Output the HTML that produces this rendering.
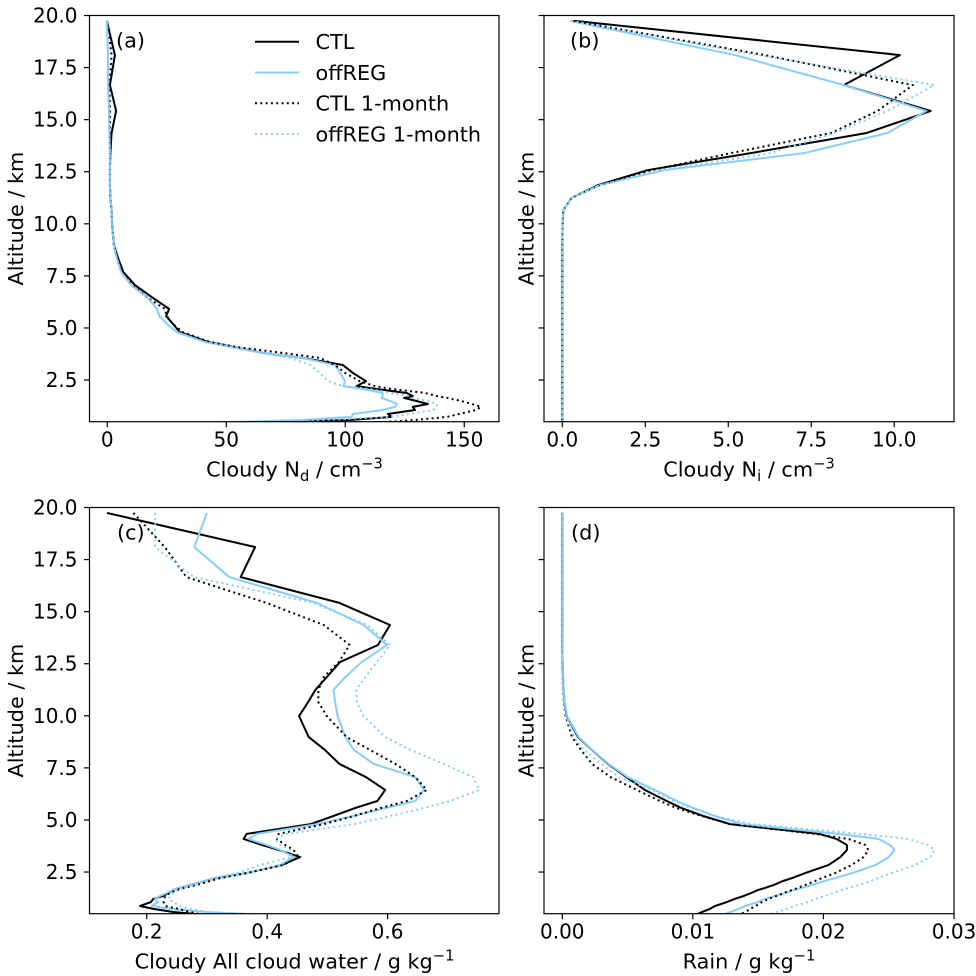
<!DOCTYPE html>
<html lang="en">
<head>
<meta charset="utf-8">
<title>Cloud profiles</title>
<style>
html,body{margin:0;padding:0;background:#fff;}
svg{display:block;}
text{font-family:"DejaVu Sans","Liberation Sans",sans-serif;font-size:20.8px;fill:#000;}
text.tick{font-size:20px;}
</style>
</head>
<body>
<svg id="fig" xmlns="http://www.w3.org/2000/svg" width="976" height="976" viewBox="0 0 976 976"></svg>
<script>
// Altitude of each model level, km
const altitude=[19.74,18.10,16.66,15.42,14.36,13.40,12.58,11.86,11.24,10.66,9.99,8.98,8.36,7.69,7.06,6.44,5.91,5.57,5.19,4.80,4.33,4.09,3.80,3.56,3.22,2.84,2.45,2.21,2.07,1.88,1.73,1.64,1.50,1.35,1.21,1.06,0.87,0.73,0.58,0.44];

// Panel (a) Nd, cm-3
const aCTL=[-0.2,3.2,1.1,3.7,1.8,1.3,1.1,1.1,1.3,1.8,2.0,2.8,4.5,6.7,11.6,19.2,26.0,24.7,27.6,30.5,42.3,52.8,65.4,82.2,99,103.2,108.7,104.8,113.2,125.8,128.4,124.7,129.7,134.7,128.4,129.3,117.9,119.5,101.9,55.8];
const aREG=[-0.2,0.3,0.3,0.7,0.9,1.1,1.1,1.1,1.3,1.8,2.0,2.7,4.0,5.8,10,17.1,20.8,21.9,25.2,29.2,41,52,65,82,95.7,97.8,99.9,99.2,107.5,115.7,115.7,115.3,118.8,121.7,120.9,115.7,103.2,102.7,82,39];
const aCTL1=[0,1.8,0.9,1.1,1.1,1.1,1.1,1.1,1.3,1.8,2,2.7,4.2,6.2,10.8,17.1,24.2,25,27.6,31.8,43,54,73.8,89.4,95.7,99.9,106,112.4,119.6,133.5,138.5,142.7,148.6,153.3,157,154.9,147.8,142.7,129.3,110];
const aREG1=[0,0.3,0.4,0.7,0.9,1.1,1.1,1.1,1.3,1.8,2,2.7,4.0,5.8,10,17.1,21,22,25.2,29.2,41,52,65,76.8,85.2,89.4,92.7,99,110.4,118.8,127.2,128.4,134.3,138.5,138.5,136.9,127.2,118.8,90.6,72.5];

// Panel (b) Ni, cm-3
const bCTL=[0.38,10.17,8.48,11.1,9.17,5.7,2.58,1.08,0.28,0.03,0.01,0,0,0,0,0,0,0,0,0,0,0,0,0,0,0,0,0,0,0,0,0,0,0,0,0,0,0,0,0];
const bREG=[0.23,5.2,8.48,10.97,9.8,7.3,3.1,1.13,0.28,0.03,0.01,0,0,0,0,0,0,0,0,0,0,0,0,0,0,0,0,0,0,0,0,0,0,0,0,0,0,0,0,0];
const bCTL1=[0.33,6.1,10.56,9.5,8.1,5.1,2.7,1.13,0.28,0.03,0.01,0,0,0,0,0,0,0,0,0,0,0,0,0,0,0,0,0,0,0,0,0,0,0,0,0,0,0,0,0];
const bREG1=[0.28,5.9,11.2,9.8,8.2,6.3,3.0,1.13,0.28,0.03,0.01,0,0,0,0,0,0,0,0,0,0,0,0,0,0,0,0,0,0,0,0,0,0,0,0,0,0,0,0,0];

// Panel (c) all cloud water, g/kg
const cCTL=[.134,.38,.356,.52,.604,.584,.521,.499,.48,.468,.453,.469,.496,.52,.564,.596,.583,.546,.51,.472,.366,.361,.391,.419,.455,.424,.366,.316,.297,.272,.253,.244,.236,.227,.211,.207,.189,.211,.244,.30];
const cREG=[.3,.279,.337,.483,.56,.599,.557,.53,.51,.513,.517,.53,.544,.577,.646,.66,.646,.596,.544,.483,.383,.369,.399,.422,.444,.422,.366,.319,.297,.272,.253,.244,.234,.222,.214,.219,.208,.239,.3,.40];
const cCTL1=[.178,.23,.266,.399,.494,.537,.519,.494,.485,.485,.499,.532,.571,.613,.646,.665,.632,.588,.544,.494,.419,.416,.43,.444,.452,.427,.366,.322,.305,.283,.261,.25,.239,.231,.229,.228,.231,.253,.272,.294];
const cREG1=[.214,.214,.278,.477,.566,.604,.582,.563,.548,.549,.56,.596,.638,.693,.742,.752,.704,.66,.604,.544,.433,.413,.422,.438,.441,.388,.35,.311,.294,.278,.261,.253,.244,.239,.236,.244,.255,.272,.3,.327];

// Panel (d) rain, in 10^-3 g/kg
const dCTL=[0,0,0,0,0,0,.02,.06,.1,.18,.34,1.2,2.28,3.5,4.9,6.33,8,9.14,10.8,12.85,19.7,21,21.8,21.8,21.3,20.4,18.6,17.6,16.9,16.2,15.5,15,14.5,13.9,13.2,12.6,11.7,11.3,10.7,10.2];
const dREG=[0,0,0,0,0,.01,.03,.07,.11,.2,.37,1.25,2.3,3.55,5,7.1,8.76,10.04,11.7,13.74,21.15,24.2,25.1,25.44,25,24,22.2,20.9,20.1,19.1,18.3,17.8,17.1,16.3,15.5,15,14,13.5,12.85,12.3];
const dCTL1=[0,0,0,0,0,0,0,.02,.05,.1,.25,.75,1.43,2.28,3.7,5.7,7.48,8.76,10.68,12.85,19.36,21.9,23.2,23.45,23.07,22.17,20.9,19.87,19.36,18.6,18,17.6,17,16.4,15.8,15.3,14.8,14.4,14,13.5];
const dREG1=[0,0,0,0,0,0,0,.02,.06,.12,.3,.9,1.66,3,4.3,6.85,8.5,9.9,11.7,14.5,22.94,26.5,28,28.5,28.2,27,25.2,24.2,23.6,22.7,21.9,21.4,20.8,20.1,19.4,18.85,17.8,17.2,16.4,15.7];

// Axis ticks
const altitudeTicks=[2.5,5,7.5,10,12.5,15,17.5,20];
const altitudeTickLabels=['2.5','5.0','7.5','10.0','12.5','15.0','17.5','20.0'];
const xTicksA=[0,50,100,150];
const xTickLabelsA=['0','50','100','150'];
const xTicksB=[0,2.5,5,7.5,10];
const xTickLabelsB=['0.0','2.5','5.0','7.5','10.0'];
const xTicksC=[0.2,0.4,0.6];
const xTickLabelsC=['0.2','0.4','0.6'];
const xTicksD=[0,10,20,30];
const xTickLabelsD=['0.00','0.01','0.02','0.03'];

// Legend and series names
const seriesNames=['CTL','offREG','CTL 1-month','offREG 1-month'];

const svg=document.getElementById('fig');
const NS='http://www.w3.org/2000/svg';
const BLUE='#87cefa';
const styles=[
  {stroke:'#000',dash:null},
  {stroke:BLUE,dash:null},
  {stroke:'#000',dash:'2 3.3'},
  {stroke:BLUE,dash:'2 3.3'}
];

function make(tag,attrs,parent){
  const el=document.createElementNS(NS,tag);
  for(const k in attrs){el.setAttribute(k,attrs[k]);}
  (parent||svg).appendChild(el);
  return el;
}

function drawPanel(p){
  const g=make('g',{});
  
  
  const xScale=v=>p.left+(v-p.xLim[0])/(p.xLim[1]-p.xLim[0])*(p.right-p.left);
  const yScale=h=>p.top+(20-h)/(20-0.5)*(p.bottom-p.top);

  const clipId='clip-'+p.id;
  const defs=make('defs',{},g);
  const cp=make('clipPath',{id:clipId},defs);
  make('rect',{x:p.left,y:p.top,width:p.right-p.left,height:p.bottom-p.top},cp);

  const seriesGroup=make('g',{'clip-path':'url(#'+clipId+')'},g);
  p.series.forEach((vals,i)=>{
    const pts=vals.map((v,k)=>xScale(v).toFixed(2)+','+yScale(altitude[k]).toFixed(2)).join(' ');
    const line=make('polyline',{points:pts,fill:'none',stroke:styles[i].stroke,'stroke-width':2,'stroke-linejoin':'round'},seriesGroup);
    if(styles[i].dash){line.setAttribute('stroke-dasharray',styles[i].dash);}
    
    
  });

  const frame=make('rect',{x:p.left,y:p.top,width:p.right-p.left,height:p.bottom-p.top,fill:'none',stroke:'#000','stroke-width':1.2},g);
  
  

  p.xTicks.forEach((t,i)=>{
    const x=xScale(t);
    const tick=make('line',{x1:x,x2:x,y1:p.bottom,y2:p.bottom+5.5,stroke:'#000','stroke-width':1.2},g);
    
    
    const lab=make('text',{x:x,y:p.bottom+25,'text-anchor':'middle','class':'tick'},g);
    lab.textContent=p.xTickLabels[i];
    
    
  });

  altitudeTicks.forEach((t,i)=>{
    const y=yScale(t);
    const tick=make('line',{x1:p.left-5.5,x2:p.left,y1:y,y2:y,stroke:'#000','stroke-width':1.2},g);
    
    
    if(p.showYLabels){
      const lab=make('text',{x:p.left-12,y:y+7,'text-anchor':'end','class':'tick'},g);
      lab.textContent=altitudeTickLabels[i];
      
      
    }
  });

  const xTitle=make('text',{x:p.titleCenter,y:p.bottom+54.7,'text-anchor':'middle'},g);
  xTitle.innerHTML=p.xTitle;
  
  

  const cy=(p.top+p.bottom)/2;
  const yx=p.yTitleX;
  const yTitle=make('text',{x:yx,y:cy,'text-anchor':'middle',transform:'rotate(-90 '+yx+' '+cy+')'},g);
  yTitle.textContent='Altitude / km';
  
  

  const tag=make('text',{x:p.tagX,y:p.top+32},g);
  tag.textContent='('+p.id+')';
  
  
}

const sub=s=>'<tspan dy="4.5" font-size="14.7">'+s+'</tspan><tspan dy="-4.5"> </tspan>';
const sup=s=>'<tspan dy="-8" font-size="14.7">'+s+'</tspan><tspan dy="8" font-size="1"> </tspan>';

drawPanel({id:'a',left:89.5,right:499,top:15.5,bottom:421.7,xLim:[-7.48,164.6],xTicks:xTicksA,xTickLabels:xTickLabelsA,series:[aCTL,aREG,aCTL1,aREG1],showYLabels:true,tagX:116,yTitleX:23,titleCenter:294.5,xTitle:'Cloudy N'+sub('d')+'/ cm'+sup('−3')});
drawPanel({id:'b',left:544,right:954,top:15.5,bottom:421.7,xLim:[-0.551,11.8],xTicks:xTicksB,xTickLabels:xTickLabelsB,series:[bCTL,bREG,bCTL1,bREG1],showYLabels:false,tagX:570,yTitleX:533.5,titleCenter:749,xTitle:'Cloudy N'+sub('i')+'/ cm'+sup('−3')});
drawPanel({id:'c',left:89.5,right:499,top:507.5,bottom:913.7,xLim:[0.105,0.785],xTicks:xTicksC,xTickLabels:xTickLabelsC,series:[cCTL,cREG,cCTL1,cREG1],showYLabels:true,tagX:117,yTitleX:23,titleCenter:294.5,xTitle:'Cloudy All cloud water / g kg'+sup('−1')});
drawPanel({id:'d',left:544,right:954,top:507.5,bottom:913.7,xLim:[-1.40,30.0],xTicks:xTicksD,xTickLabels:xTickLabelsD,series:[dCTL,dREG,dCTL1,dREG1],showYLabels:false,tagX:571,yTitleX:533.5,titleCenter:749,xTitle:'Rain / g kg'+sup('−1')});

// Legend
const legend=make('g',{});


seriesNames.forEach((name,i)=>{
  const y=41.7+i*30.75;
  const h=make('line',{x1:255,x2:299,y1:y,y2:y,stroke:styles[i].stroke,'stroke-width':2},legend);
  if(styles[i].dash){h.setAttribute('stroke-dasharray',styles[i].dash);}
  
  
  const t=make('text',{x:315.5,y:y+7.5},legend);
  t.textContent=name;
  
  
});
</script>
</body>
</html>
